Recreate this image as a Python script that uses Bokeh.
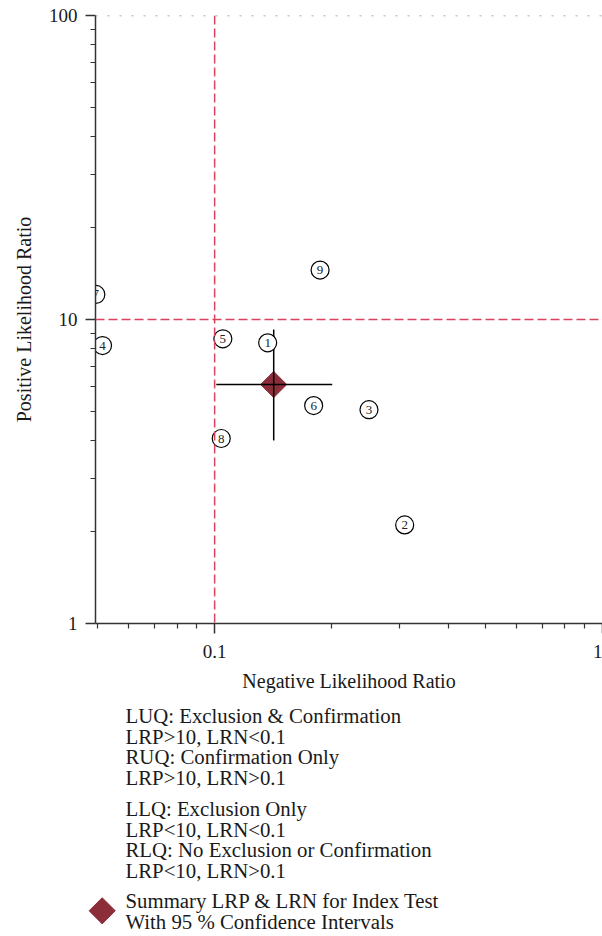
import math
from bokeh.plotting import figure
from bokeh.models import Range1d, FixedTicker, CustomJSTickFormatter, Span, ColumnDataSource
from bokeh.embed import file_html
from bokeh.resources import INLINE
from bokeh.core.properties import value

# ---- data ----
study_ids = ["1", "2", "3", "4", "5", "6", "7", "8", "9"]
lrn = [0.137, 0.309, 0.250, 0.0514, 0.105, 0.180, 0.0494, 0.104, 0.187]
lrp = [8.38, 2.11, 5.05, 8.21, 8.64, 5.21, 12.09, 4.06, 14.54]

summary_lrn = [0.142]
summary_lrp = [6.11]
summary_lrn_ci = [0.101, 0.201]
summary_lrp_ci = [4.00, 9.27]

lrp_threshold = 10
lrn_threshold = 0.1

x_major = [0.1, 1]
x_minor = [0.05, 0.06, 0.07, 0.08, 0.09, 0.2, 0.3, 0.4, 0.5, 0.6, 0.7, 0.8, 0.9]
y_major = [1, 10, 100]
y_minor = [2, 3, 4, 5, 6, 7, 8, 9, 20, 30, 40, 50, 60, 70, 80, 90]

legend_lines = [
    "LUQ: Exclusion & Confirmation",
    "LRP>10, LRN<0.1",
    "RUQ: Confirmation Only",
    "LRP>10, LRN>0.1",
    "LLQ: Exclusion Only",
    "LRP<10, LRN<0.1",
    "RLQ: No Exclusion or Confirmation",
    "LRP<10, LRN>0.1",
    "Summary LRP & LRN for Index Test",
    "With 95 % Confidence Intervals",
]
legend_blocks = [0, 0, 0, 0, 1, 1, 1, 1, 2, 2]

FONT = "Liberation Serif"
TXT = "#1a1a1a"
RED = "#d9435e"
DIAMOND = "#8b2e3a"

x_lo, x_hi = 0.0493, 1.0
y_lo, y_hi = 1.0, 100.0

W = 602
LEFT = 95
p = figure(width=W, height=703, x_axis_type="log", y_axis_type="log",
           x_range=Range1d(x_lo, x_hi), y_range=Range1d(y_lo, y_hi),
           output_backend="svg", toolbar_location=None,
           min_border_left=LEFT, min_border_right=0, min_border_top=15, min_border_bottom=80)
p.outline_line_color = None
p.grid.visible = False
p.background_fill_color = "white"

for ax, ma, mi in ((p.xaxis[0], x_major, x_minor), (p.yaxis[0], y_major, y_minor)):
    ax.ticker = FixedTicker(ticks=ma, minor_ticks=mi)
    ax.formatter = CustomJSTickFormatter(code="return tick.toString();")
    ax.axis_line_color = "#333333"
    ax.axis_line_width = 1.5
    ax.major_tick_line_color = "#333333"
    ax.major_tick_line_width = 1.5
    ax.minor_tick_line_color = "#333333"
    ax.minor_tick_line_width = 1.2
    ax.major_tick_in = 0
    ax.major_tick_out = 10
    ax.minor_tick_in = 0
    ax.minor_tick_out = 5
    ax.major_label_text_font = FONT
    ax.major_label_text_font_size = "19px"
    ax.major_label_text_color = TXT
    ax.axis_label_text_font = FONT
    ax.axis_label_text_font_size = "20px"
    ax.axis_label_text_font_style = "normal"
    ax.axis_label_text_color = TXT

p.xaxis.axis_label = "Negative Likelihood Ratio"
p.yaxis.axis_label = "Positive Likelihood Ratio"
p.xaxis.major_label_standoff = 11
p.xaxis.axis_label_standoff = 9
p.yaxis.major_label_standoff = 8
p.yaxis.axis_label_standoff = 11

# top dotted line and quadrant lines
p.add_layout(Span(location=y_hi, dimension="width", line_color="#888888",
                  line_width=1.6, line_dash="2 10"))
p.add_layout(Span(location=lrp_threshold, dimension="width", line_color=RED,
                  line_width=1.5, line_dash="9 4"))
p.add_layout(Span(location=lrn_threshold, dimension="height", line_color=RED,
                  line_width=1.5, line_dash="9 4"))

# summary diamond and CI cross
p.scatter(x=summary_lrn, y=summary_lrp, marker="square", angle=math.pi / 4,
          size=18.5, fill_color=DIAMOND, line_color=DIAMOND)
p.segment(x0=[summary_lrn_ci[0]], y0=summary_lrp, x1=[summary_lrn_ci[1]], y1=summary_lrp,
          line_color="black", line_width=1.5)
p.segment(x0=summary_lrn, y0=[summary_lrp_ci[0]], x1=summary_lrn, y1=[summary_lrp_ci[1]],
          line_color="black", line_width=1.5)

# studies
src = ColumnDataSource(dict(x=lrn, y=lrp, label=study_ids))
p.scatter(x="x", y="y", source=src, marker="circle", size=18,
          fill_color="white", line_color="black", line_width=1.2)
p.text(x="x", y="y", text="label", source=src, text_font=value(FONT),
       text_font_size="13px", text_align="center", text_baseline="middle",
       text_color="#222222")

# legend panel: separate root below the chart, data units = page pixels
leg_h = 233
leg = figure(width=W, height=leg_h, x_range=Range1d(0, W), y_range=Range1d(leg_h, 0),
             output_backend="svg", toolbar_location=None, min_border=0,
             min_border_left=0, min_border_right=0, min_border_top=0, min_border_bottom=0,
             x_axis_location=None, y_axis_location=None)
leg.outline_line_color = None
leg.grid.visible = False

block_start = [12, 105, 197]
line_gap = 20.6
ys = []
counts = {}
for b in legend_blocks:
    i = counts.get(b, 0)
    ys.append(block_start[b] + i * line_gap)
    counts[b] = i + 1
leg.text(x=[125] * len(legend_lines), y=ys, text=legend_lines, text_font=value(FONT),
         text_font_size="20.8px", text_baseline="middle", text_color=TXT)
leg.scatter(x=[101.7], y=[(ys[-2] + ys[-1]) / 2], marker="square", angle=math.pi / 4,
            size=18.5, fill_color=DIAMOND, line_color=DIAMOND)

open("out.html", "w").write(file_html([p, leg], INLINE))
